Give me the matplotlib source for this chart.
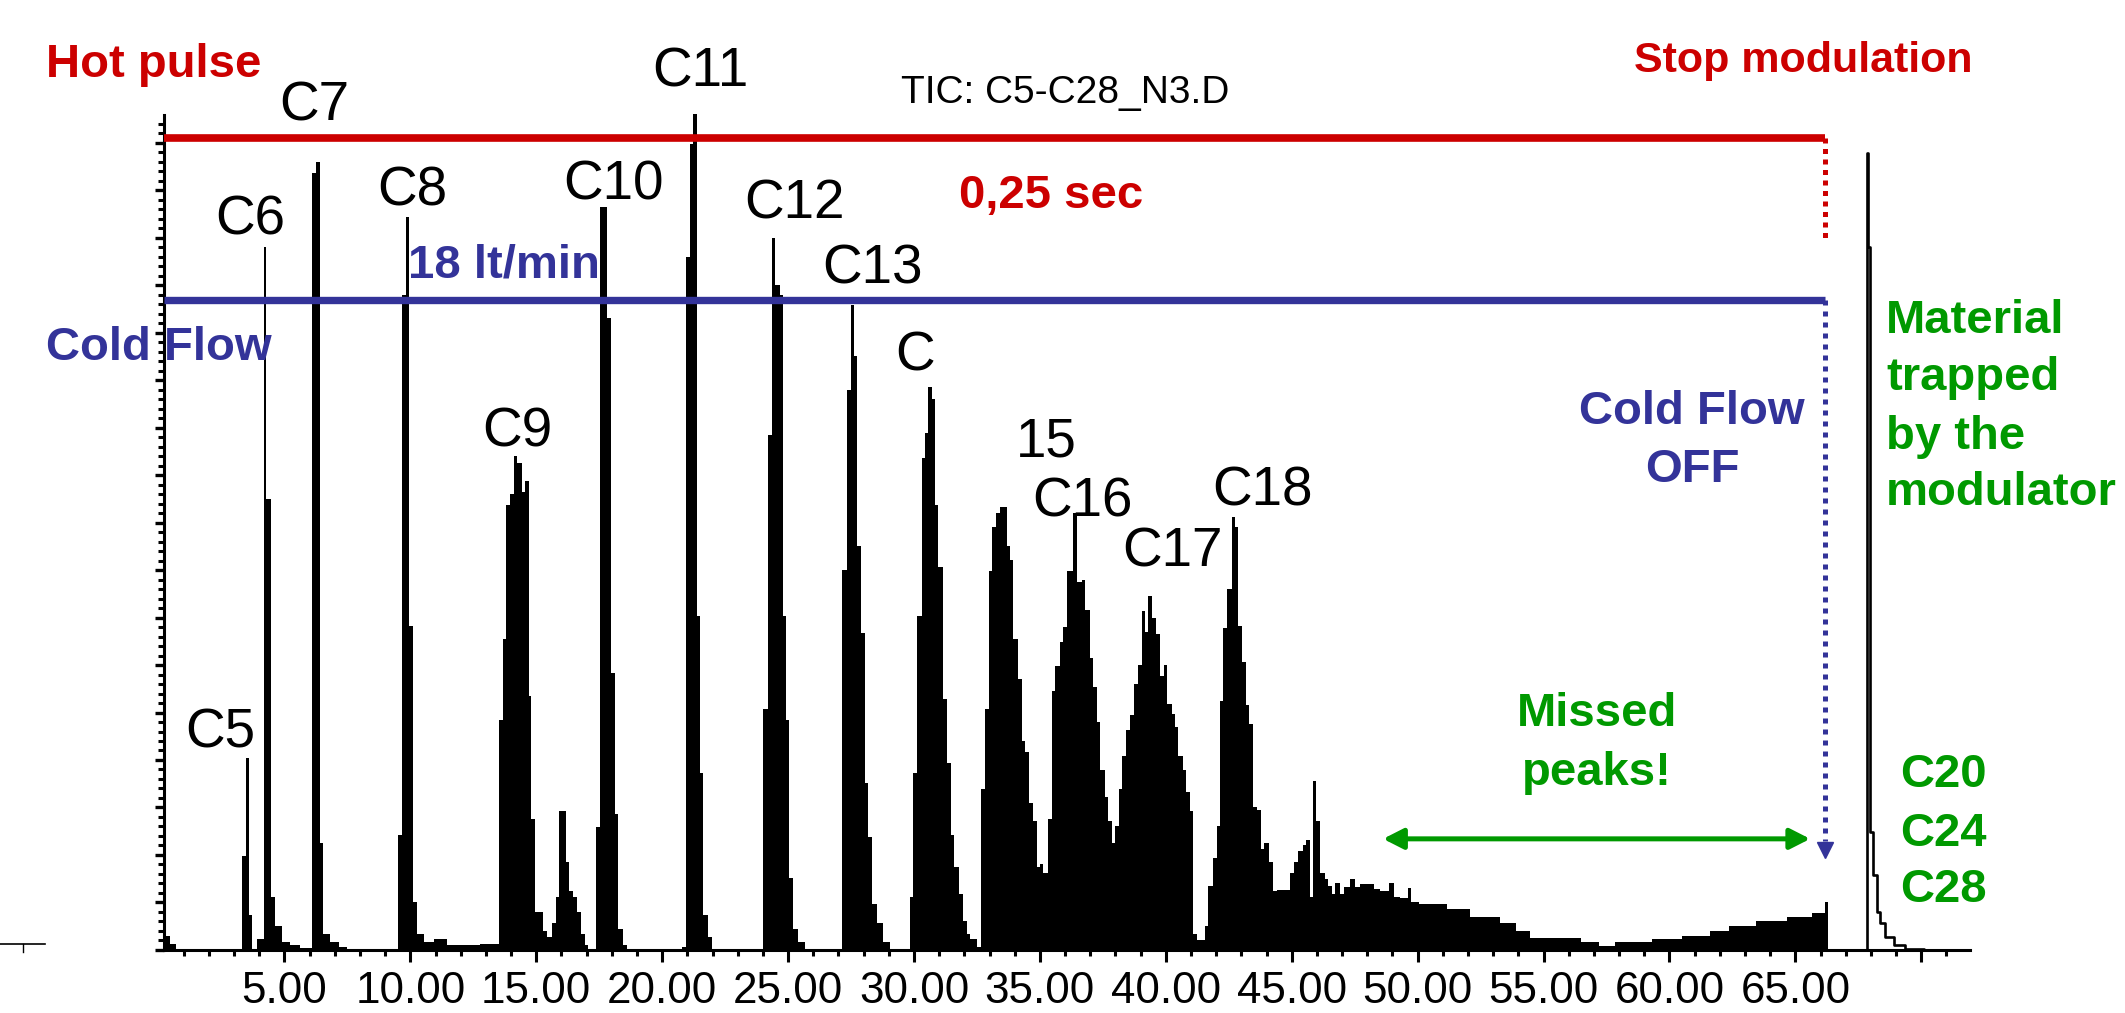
"""Total ion chromatogram of a C5-C28 run with the modulator stopped at 66 min"""
import matplotlib
matplotlib.use("Agg")
from matplotlib import pyplot as plt
from matplotlib.lines import Line2D
from matplotlib.ticker import MultipleLocator

plt.rcParams['font.family'] = ['Liberation Sans', 'DejaVu Sans']

# envelope of the modulated trace: left edge of each step (min) and its height
# (abundance in arbitrary units, one unit = one major tick on the y axis)
ret_time = [0.22, 0.45, 0.70,
            3.30, 3.47, 3.58, 3.70, 3.90,
            4.19, 4.27, 4.46, 4.63, 4.90, 5.23, 5.63,
            6.09, 6.26, 6.40, 6.55, 6.82, 7.15, 7.48,
            9.53, 9.67, 9.83, 9.93, 10.10, 10.26, 10.53, 10.93, 11.46, 12.38, 12.77,
            13.53, 13.69, 13.80, 13.95, 14.11, 14.22, 14.42, 14.55, 14.70, 14.81,
            14.97, 15.28, 15.44, 15.61,
            15.78, 15.92, 16.18, 16.31, 16.47, 16.63, 16.78, 16.93, 17.07,
            17.37, 17.53, 17.80, 17.97, 18.13, 18.26, 18.43, 18.59,
            20.78, 20.95, 21.11, 21.24, 21.37, 21.50, 21.63, 21.83, 21.97,
            24.02, 24.22, 24.35, 24.48, 24.68, 24.78, 24.91, 25.05, 25.21, 25.41, 25.67,
            27.13, 27.33, 27.49, 27.62, 27.75, 27.89, 28.06, 28.19, 28.32, 28.52,
            28.79, 29.05,
            29.85, 29.98, 30.14, 30.31, 30.44, 30.57, 30.73, 30.84, 30.97, 31.14,
            31.30, 31.46, 31.59, 31.77, 31.94, 32.10, 32.23, 32.50,
            32.67, 32.83, 32.96, 33.11, 33.26, 33.42, 33.69, 33.82, 33.95, 34.15,
            34.28, 34.41, 34.58, 34.74, 34.88, 35.01, 35.14,
            35.31, 35.47, 35.60, 35.78, 35.91, 36.07, 36.33, 36.49, 36.66, 36.80,
            36.99, 37.12, 37.26, 37.39, 37.59, 37.72, 37.85, 37.98,
            38.15, 38.28, 38.44, 38.58, 38.74, 38.88, 39.04, 39.17, 39.31, 39.44,
            39.61, 39.77, 39.93, 40.06, 40.23, 40.37, 40.50, 40.67, 40.81, 40.96,
            41.09, 41.25, 41.56, 41.69, 41.86, 42.02,
            42.15, 42.29, 42.45, 42.62, 42.75, 42.88, 43.04, 43.19, 43.32, 43.48,
            43.61, 43.77, 43.90, 44.08, 44.25, 44.41,
            44.94, 45.10, 45.27, 45.43, 45.58, 45.71, 45.84, 45.98, 46.13, 46.31,
            46.46, 46.60, 46.73, 46.90, 47.06, 47.33, 47.52, 47.72, 48.25, 48.52,
            48.85, 49.05,
            49.31, 49.60, 49.75, 50.05, 51.15, 52.07, 53.26, 53.90, 54.45, 56.47,
            57.21, 57.85, 59.32, 60.51, 61.61, 62.35, 63.45, 64.65, 65.66, 66.17,
            66.30]
signal = [0.30, 0.12, 0.00,
          1.97, 4.05, 0.73, 0.00, 0.23,
          14.80, 9.50, 1.12, 0.50, 0.17, 0.11, 0.05,
          16.35, 16.60, 2.25, 0.34, 0.17, 0.06, 0.00,
          2.42, 13.80, 15.44, 6.82, 1.01, 0.34, 0.17, 0.23, 0.11, 0.10, 0.13,
          4.85, 6.55, 9.36, 9.59, 10.40, 10.26, 9.64, 9.87, 5.35, 2.76,
          0.81, 0.39, 0.28, 0.56,
          1.12, 2.93, 1.86, 1.24, 1.12, 0.79, 0.34, 0.11, 0.00,
          2.59, 15.65, 13.30, 5.84, 2.87, 0.45, 0.11, 0.00,
          0.06, 14.60, 16.97, 17.60, 7.04, 3.73, 0.73, 0.28, 0.00,
          5.08, 10.85, 15.00, 14.00, 13.80, 7.04, 4.85, 1.52, 0.45, 0.17, 0.00,
          8.00, 11.78, 13.58, 12.50, 8.50, 6.68, 3.51, 2.38, 0.96, 0.56,
          0.17, 0.00,
          1.12, 3.73, 7.04, 10.35, 10.88, 11.86, 11.61, 9.36, 8.06, 5.29,
          3.94, 2.42, 1.75, 1.18, 0.62, 0.34, 0.23, 0.06,
          3.39, 5.08, 7.98, 8.91, 9.19, 9.33, 8.51, 8.21, 6.55, 5.70,
          4.40, 4.17, 3.10, 2.71, 1.75, 1.80, 1.63,
          2.76, 5.46, 5.97, 6.48, 6.79, 7.98, 9.19, 7.75, 7.80, 7.15,
          6.15, 5.53, 4.80, 3.78, 3.22, 2.71, 2.25, 2.62,
          3.39, 4.09, 4.63, 4.95, 5.59, 5.99, 7.14, 6.69, 7.46, 6.98,
          6.66, 5.76, 5.99, 5.17, 4.97, 4.69, 4.09, 3.78, 3.33, 2.93,
          0.34, 0.20, 0.51, 1.35, 1.94, 2.62,
          5.25, 6.77, 7.59, 9.12, 8.91, 6.82, 6.07, 5.16, 4.76, 3.02,
          2.95, 2.12, 2.25, 1.86, 1.24, 1.26,
          1.63, 1.86, 2.08, 2.20, 2.31, 1.12, 3.56, 2.71, 1.63, 1.49,
          1.35, 1.18, 1.41, 1.18, 1.33, 1.49, 1.33, 1.38, 1.29, 1.24,
          1.41, 1.12,
          1.10, 1.31, 1.00, 0.97, 0.86, 0.69, 0.57, 0.41, 0.25, 0.17,
          0.09, 0.17, 0.23, 0.30, 0.41, 0.50, 0.62, 0.69, 0.77, 1.00,
          0.00]

# after the stop: everything held in the modulator elutes as one peak
trap_time = [66.30, 67.85, 67.90, 67.96, 68.09, 68.25, 68.38, 68.58, 68.91,
             69.37, 70.10, 71.94]
trap_signal = [0.00, 16.78, 14.80, 2.48, 1.58, 0.79, 0.56, 0.28, 0.11,
               0.03, 0.00, 0.00]

peak_names = ["C5", "C6", "C7", "C8", "C9", "C10", "C11", "C12", "C13",
              "C", "15", "C16", "C17", "C18"]
trapped_names = ["C20", "C24", "C28"]

x_major = [5, 10, 15, 20, 25, 30, 35, 40, 45, 50, 55, 60, 65, 70]
x_tick_labels = [f"{v:.2f}" for v in x_major[:-1]] + [""]

RED = "#cc0000"
BLUE = "#333399"
GREEN = "#009900"
NARROW = ['Liberation Sans Narrow', 'Liberation Sans', 'DejaVu Sans']

# where the labels sit (retention time, abundance of the text baseline)
label_pos = [(2.44, 4.27), (3.63, 15.07), (6.18, 17.47), (10.07, 15.68),
             (14.24, 10.59), (18.05, 15.79), (21.51, 18.19), (25.24, 15.41),
             (28.34, 14.04), (30.04, 12.21), (35.25, 10.40), (36.68, 9.12),
             (40.25, 8.08), (43.86, 9.35)]
trapped_y = [3.43, 2.19, 1.01]

stop_t = 66.18
hot_y, cold_y = 17.09, 13.69

fig = plt.figure(figsize=(21.25, 10.13), dpi=100)
ax = fig.add_axes([0.0772, 0.0622, 0.8499, 0.8243])

ax.fill_between(ret_time, signal, step='post', color='black', lw=0,
                clip_on=False, zorder=2)
ax.plot(trap_time, trap_signal, drawstyle='steps-post', color='black',
        lw=1.9, zorder=2)

for name, (tx, ty) in zip(peak_names, label_pos):
    ax.text(tx, ty, name, ha='center', va='baseline', fontsize=39.5)

# modulator settings
ax.plot([0.22, stop_t], [hot_y, hot_y], color=RED, lw=5.5,
        solid_capstyle='butt', zorder=3)
ax.plot([0.22, stop_t], [cold_y, cold_y], color=BLUE, lw=5.3,
        solid_capstyle='butt', zorder=3)
ax.plot([stop_t, stop_t], [hot_y, 15.0], color=RED, lw=3.6,
        linestyle=(0, (1, 1.1)), dash_capstyle='butt', zorder=3)
ax.plot([stop_t, stop_t], [cold_y, 2.3], color=BLUE, lw=3.6,
        linestyle=(0, (1, 1.2)), dash_capstyle='butt', zorder=3)
ax.plot(stop_t, 2.1, marker='v', ms=12, color=BLUE, zorder=3)
ax.annotate('', xy=(48.63, 2.34), xytext=(65.59, 2.34),
            arrowprops=dict(arrowstyle='<|-|>,head_length=0.55,head_width=0.28',
                            color=GREEN, lw=3.6, mutation_scale=22,
                            shrinkA=0, shrinkB=0))

bold = dict(fontsize=34, fontweight='bold', va='baseline')
ax.text(-4.47, 18.38, "Hot pulse", color=RED, ha='left', **bold)
ax.text(65.31, 18.48, "Stop modulation", color=RED, ha='center',
        **{**bold, 'fontsize': 31})
ax.text(35.44, 15.62, "0,25 sec", color=RED, ha='center', **bold)
ax.text(13.72, 14.15, "18 lt/min", color=BLUE, ha='center', **bold)
ax.text(-4.47, 12.42, "Cold Flow", color=BLUE, ha='left', **bold)
ax.text(60.90, 11.07, "Cold Flow", color=BLUE, ha='center', **bold)
ax.text(60.90, 9.85, "OFF", color=BLUE, ha='center', **bold)
for line, ty in zip(["Material", "trapped", "by the", "modulator"],
                    [12.99, 11.79, 10.55, 9.37]):
    ax.text(68.61, ty, line, color=GREEN, ha='left', **bold)
for name, ty in zip(trapped_names, trapped_y):
    ax.text(69.16, ty, name, color=GREEN, ha='left', **bold)
ax.text(57.13, 4.72, "Missed", color=GREEN, ha='center', **bold)
ax.text(57.13, 3.47, "peaks!", color=GREEN, ha='center', **bold)

ax.text(36.0, 17.83, "TIC: C5-C28_N3.D", ha='center', va='baseline',
        fontsize=28, family=NARROW)

ax.set_xlim(0.22, 71.94)
ax.set_ylim(0, 17.58)
ax.set_xticks(x_major, x_tick_labels)
ax.xaxis.set_minor_locator(MultipleLocator(1))
ax.yaxis.set_major_locator(MultipleLocator(1))
ax.yaxis.set_minor_locator(MultipleLocator(0.2))
ax.tick_params(axis='x', which='major', length=8.6, width=2.2, pad=6.5,
               labelsize=31.7)
ax.tick_params(axis='x', which='minor', length=4.3, width=2.2)
ax.tick_params(axis='y', which='major', length=6.5, width=2.4, labelleft=False)
ax.tick_params(axis='y', which='minor', length=4.0, width=2.2)
for lab in ax.get_xticklabels():
    lab.set_family(NARROW)
ax.spines[['top', 'right']].set_visible(False)
ax.spines[['left', 'bottom']].set_linewidth(2.2)

# little origin marker left by the data system, bottom left corner
fig.add_artist(Line2D([0, 45 / 2125], [1 - 944 / 1013] * 2, color='black', lw=1.2))
fig.add_artist(Line2D([23 / 2125] * 2, [1 - 944 / 1013, 1 - 952 / 1013],
                      color='black', lw=1.0))

fig.savefig('out.png', dpi=100)
